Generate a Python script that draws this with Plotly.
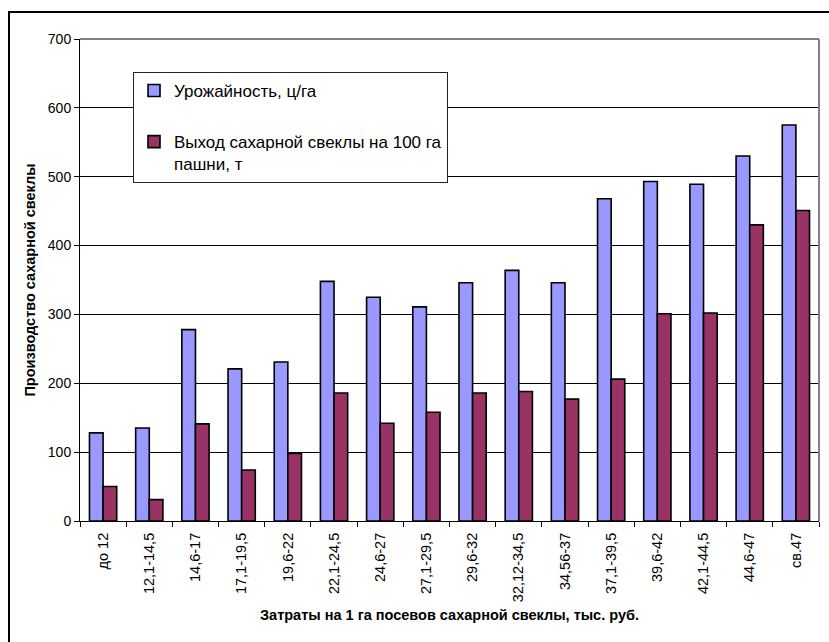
import plotly.graph_objects as go

# Cost groups per 1 ha of sugar beet sowing, thousand rubles
categories = ["до 12", "12,1-14,5", "14,6-17", "17,1-19,5", "19,6-22", "22,1-24,5",
              "24,6-27", "27,1-29,5", "29,6-32", "32,12-34,5", "34,56-37", "37,1-39,5",
              "39,6-42", "42,1-44,5", "44,6-47", "св.47"]

# Yield, c/ha
yield_c_ha = [128, 135, 278, 221, 231, 348, 325, 311, 346, 364, 346, 468, 493, 489, 530, 575]

# Sugar beet output per 100 ha of arable land, t
output_per_100ha = [50, 31, 141, 74, 98, 186, 142, 158, 186, 188, 177, 206, 301, 302, 430, 451]

y_ticks = [0, 100, 200, 300, 400, 500, 600, 700]

FONT = "Liberation Sans, Arial, sans-serif"

fig = go.Figure()
fig.add_trace(go.Bar(
    x=categories, y=yield_c_ha, name="Урожайность, ц/га",
    legendgroup="a",
    marker=dict(color="#9999FF", line=dict(color="black", width=1.6)),
))
fig.add_trace(go.Bar(
    x=categories, y=output_per_100ha, name="Выход сахарной свеклы на 100 га<br>пашни, т",
    legendgroup="b",
    marker=dict(color="#993366", line=dict(color="black", width=1.6)),
))

fig.update_layout(
    width=829, height=642,
    margin=dict(l=80, r=10, t=39, b=121),
    paper_bgcolor="white", plot_bgcolor="white",
    font=dict(family=FONT, size=14, color="black"),
    barmode="group", bargap=0.41, bargroupgap=0,
    showlegend=True,
    legend=dict(
        x=(133 - 80) / 739, y=(521 - 72) / 482, xanchor="left", yanchor="top",
        bgcolor="white", bordercolor="#222", borderwidth=1,
        font=dict(family=FONT, size=17, color="black"),
        tracegroupgap=26, traceorder="grouped", valign="top",
    ),
    xaxis=dict(
        type="category", tickangle=-90, tickson="boundaries",
        ticks="outside", ticklen=5, tickcolor="black",
        ticklabelstandoff=5,
        showline=True, linecolor="black", linewidth=1,
        showgrid=False,
        tickfont=dict(family=FONT, size=14.5),
        title=dict(text="<b>Затраты на 1 га посевов сахарной свеклы, тыс. руб.</b>",
                   font=dict(family=FONT, size=14.5), standoff=8),
    ),
    yaxis=dict(
        range=[0, 700], tickvals=y_ticks,
        ticks="outside", ticklen=5, tickcolor="black",
        showline=True, linecolor="black", linewidth=1,
        showgrid=True, gridcolor="black", gridwidth=1,
        zeroline=False,
        tickfont=dict(family=FONT, size=14),
        title=dict(text="<b>Производство сахарной свеклы</b>",
                   font=dict(family=FONT, size=14.5), standoff=8),
    ),
    shapes=[
        # gray frame on the top and right of the plotting area
        dict(type="line", xref="paper", yref="paper", x0=0, x1=1, y0=1, y1=1,
             line=dict(color="#808080", width=2), layer="above"),
        dict(type="line", xref="paper", yref="paper", x0=1, x1=1, y0=0, y1=1,
             line=dict(color="#808080", width=2), layer="above"),
        # outer chart border
        dict(type="rect", xref="paper", yref="paper",
             x0=(9 - 80) / 739, x1=1.03, y0=-0.27, y1=(521 - 12) / 482,
             line=dict(color="black", width=2), layer="above"),
    ],
)

fig.write_html("out.html")
